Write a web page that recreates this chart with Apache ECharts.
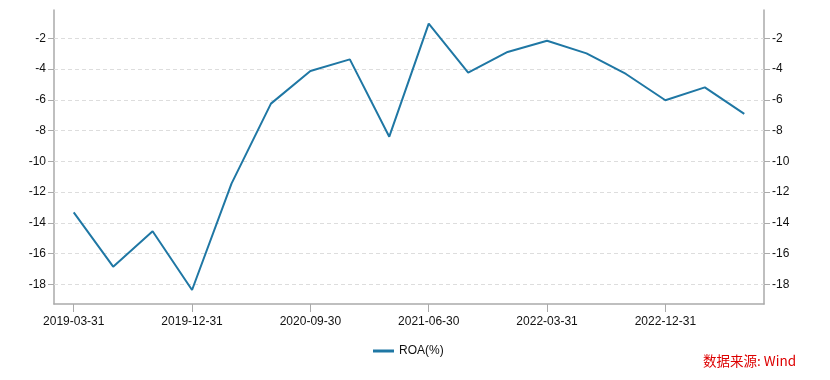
<!DOCTYPE html>
<html>
<head>
<meta charset="utf-8">
<script src="https://cdn.jsdelivr.net/npm/echarts@6/dist/echarts.min.js"></script>
<style>html,body{margin:0;padding:0;background:#fff}#c{width:830px;height:380px}</style>
</head>
<body>
<div id="c"></div>
<script>
const categories = ['2019-03-31','2019-06-30','2019-09-30','2019-12-31','2020-03-31','2020-06-30','2020-09-30','2020-12-31','2021-03-31','2021-06-30','2021-09-30','2021-12-31','2022-03-31','2022-06-30','2022-09-30','2022-12-31','2023-03-31','2023-06-30'];
const roaValues = [-13.32,-16.85,-14.55,-18.37,-11.45,-6.25,-4.13,-3.37,-8.4,-1.05,-4.24,-2.89,-2.16,-2.98,-4.32,-6.03,-5.19,-6.92];
const yTicks = [-2,-4,-6,-8,-10,-12,-14,-16,-18];
const seriesName = 'ROA(%)';
const sourceText = '数据来源: Wind';

const FONT = '"Liberation Sans", Arial, Helvetica, sans-serif';
const axisColor = '#aaaaaa';
const lineColor = '#1f77a4';

function yAxisCfg(pos) {
  return {
    type: 'value', position: pos, min: -19.28, max: -0.16,
    axisLine: {show: true, lineStyle: {color: axisColor, width: 1.5}},
    axisTick: {show: true, length: 6, customValues: yTicks, lineStyle: {color: axisColor}},
    axisLabel: {customValues: yTicks, margin: 8, color: '#111', fontSize: 12, fontFamily: FONT},
    splitLine: {show: false}
  };
}

const chart = echarts.init(document.getElementById('c'), null, {renderer: 'canvas'});
chart.setOption({
  animation: false,
  grid: {left: 54, right: 66, top: 10, bottom: 76, containLabel: false},
  legend: {
    left: 368, top: 340, data: [{name: seriesName, icon: 'rect'}],
    itemWidth: 21, itemHeight: 3, itemGap: 10,
    textStyle: {color: '#111', fontSize: 12, fontFamily: FONT}
  },
  xAxis: {
    type: 'category', data: categories, boundaryGap: true,
    axisLine: {lineStyle: {color: axisColor, width: 1.5}},
    axisTick: {show: true, interval: 2, alignWithLabel: true, length: 8, lineStyle: {color: axisColor}},
    axisLabel: {interval: 2, margin: 12, color: '#111', fontSize: 12, fontFamily: FONT},
    splitLine: {show: false}
  },
  yAxis: [yAxisCfg('left'), yAxisCfg('right')],
  series: [{
    name: seriesName, type: 'line', data: roaValues, yAxisIndex: 0,
    symbol: 'none', lineStyle: {color: lineColor, width: 2}, itemStyle: {color: lineColor},
    markLine: {
      silent: true, symbol: 'none', label: {show: false}, z: 1,
      lineStyle: {color: '#dddddd', type: [4, 3], width: 1},
      data: yTicks.map(v => ({yAxis: v}))
    }
  }, {
    type: 'line', yAxisIndex: 1, data: [], silent: true
  }],
  graphic: [{
    type: 'text', right: 34, top: 354,
    style: {text: sourceText, fill: '#dd0000', fontSize: 13.5, fontFamily: '"Noto Sans CJK SC", ' + FONT}
  }]
});
</script>
</body>
</html>
